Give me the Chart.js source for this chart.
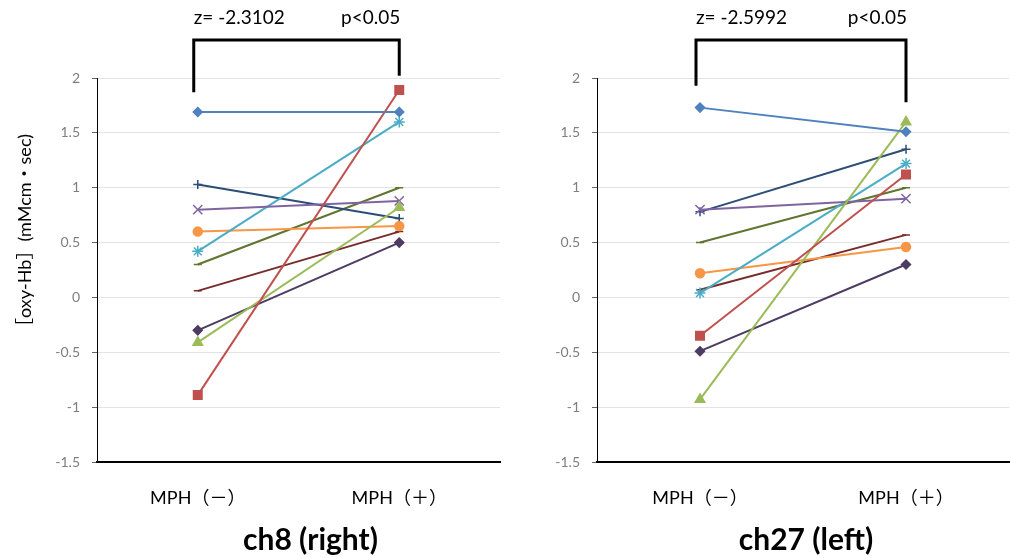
<!DOCTYPE html>
<html>
<head>
<meta charset="utf-8">
<script src="https://cdn.jsdelivr.net/npm/chart.js@4"></script>
<style>
  body { margin: 0; background: #fff; overflow: hidden; }
  .box { position: absolute; top: 0; height: 558px; }
  #leftBox { left: 0; width: 508px; }
  #rightBox { left: 505px; width: 512px; }
</style>
</head>
<body>
<div class="box" id="leftBox"><canvas id="ch8"></canvas></div>
<div class="box" id="rightBox"><canvas id="ch27"></canvas></div>
<script>
const categories = ['MPH（－）', 'MPH（＋）'];
const yTickMin = -1.5;
const yTickMax = 2;
const yTickStep = 0.5;

// ten subjects, same order in both charts
const ch8Before = [1.69, -0.89, -0.41, 0.80, 0.42, 0.60, 1.03, 0.06, 0.30, -0.30];
const ch8After = [1.69, 1.89, 0.82, 0.88, 1.60, 0.65, 0.72, 0.60, 1.00, 0.50];
const ch27Before = [1.73, -0.35, -0.93, 0.80, 0.04, 0.22, 0.78, 0.07, 0.50, -0.49];
const ch27After = [1.51, 1.12, 1.60, 0.90, 1.22, 0.46, 1.35, 0.57, 1.00, 0.30];

const colors = ['#4F81BD', '#C0504D', '#9BBB59', '#8064A2', '#4BACC6', '#F79646', '#2C4D75', '#772C2A', '#5F7530', '#4D3B62'];
const markers = ['rectRot', 'rect', 'triangle', 'crossRot', 'star', 'circle', 'cross', 'line', 'line', 'rectRot'];
const markerSizes = [4.5, 6, 5.5, 6.5, 5.5, 4.5, 4.5, 4, 4, 4.5];

const fontFamily = 'Lato, "Noto Sans CJK JP", sans-serif';

// bracket, stats text, axis title and chart caption
const decorPlugin = {
    id: 'decor',
    afterDraw(chart, args, opts) {
        const ctx = chart.ctx;
        const x = chart.scales.x;
        const y = chart.scales.y;
        const area = chart.chartArea;
        const x0 = x.getPixelForValue(0) - 4;
        const x1 = x.getPixelForValue(1);
        const top = 40;
        ctx.save();
        ctx.strokeStyle = '#000';
        ctx.lineWidth = 3;
        ctx.beginPath();
        ctx.moveTo(x0, y.getPixelForValue(opts.leftLeg));
        ctx.lineTo(x0, top);
        ctx.lineTo(x1, top);
        ctx.lineTo(x1, y.getPixelForValue(opts.rightLeg));
        ctx.stroke();

        ctx.fillStyle = '#000';
        ctx.font = '19px ' + fontFamily;
        ctx.textBaseline = 'middle';
        ctx.textAlign = 'left';
        ctx.fillText(opts.zText, x0, 18);
        ctx.textAlign = 'right';
        ctx.fillText(opts.pText, x1 + 1, 18);

        ctx.font = 'bold 30px ' + fontFamily;
        ctx.textAlign = 'center';
        ctx.textBaseline = 'alphabetic';
        ctx.fillText(opts.caption, (area.left + area.right) / 2 + opts.captionShift, 550);

        if (opts.yTitle) {
            ctx.translate(25, 235);
            ctx.rotate(-Math.PI / 2);
            ctx.font = '18px ' + fontFamily;
            ctx.textBaseline = 'middle';
            ctx.fillText(opts.yTitle, 0, 0);
        }
        ctx.restore();
    }
};

function makeChart(id, before, after, axisWidth, decor) {
    let datasets = [];
    for (let i = 0; i < before.length; i++) {
        datasets.push({
            data: [before[i], after[i]],
            borderColor: colors[i],
            backgroundColor: colors[i],
            borderWidth: 2,
            pointStyle: markers[i],
            pointRadius: markerSizes[i],
            pointBorderWidth: 1.5,
            pointBorderColor: colors[i],
            pointBackgroundColor: colors[i],
            tension: 0
        });
    }

    return new Chart(document.getElementById(id), {
        type: 'line',
        data: { labels: categories, datasets: datasets },
        plugins: [decorPlugin],
        options: {
            responsive: true,
            maintainAspectRatio: false,
            animation: false,
            layout: { padding: { top: 78, right: 1, left: 0, bottom: 0 } },
            plugins: {
                legend: { display: false },
                tooltip: { enabled: false },
                decor: decor
            },
            scales: {
                x: {
                    offset: true,
                    grid: { display: false, drawTicks: false },
                    border: { display: true, color: '#000', width: 2 },
                    ticks: { color: '#000', padding: 25, font: { family: fontFamily, size: 18 } },
                    afterFit(scale) { scale.height = 96; }
                },
                y: {
                    min: yTickMin,
                    max: yTickMax,
                    ticks: {
                        stepSize: yTickStep,
                        color: '#7f7f7f',
                        padding: 12,
                        font: { family: fontFamily, size: 14 },
                        callback: (v) => String(v)
                    },
                    grid: { color: '#e3e3e3', tickColor: '#666', tickLength: 5 },
                    border: { color: '#000', width: 1 },
                    afterFit(scale) { scale.width = axisWidth; }
                }
            }
        }
    });
}

makeChart('ch8', ch8Before, ch8After, 97, {
    zText: 'z= -2.3102', pText: 'p<0.05', leftLeg: 1.87, rightLeg: 2.02,
    caption: 'ch8 (right)', captionShift: 12, yTitle: '［oxy-Hb］(mMcm・sec)'
});
makeChart('ch27', ch27Before, ch27After, 92, {
    zText: 'z= -2.5992', pText: 'p<0.05', leftLeg: 1.93, rightLeg: 1.78,
    caption: 'ch27 (left)', captionShift: 3, yTitle: ''
});
</script>
</body>
</html>
